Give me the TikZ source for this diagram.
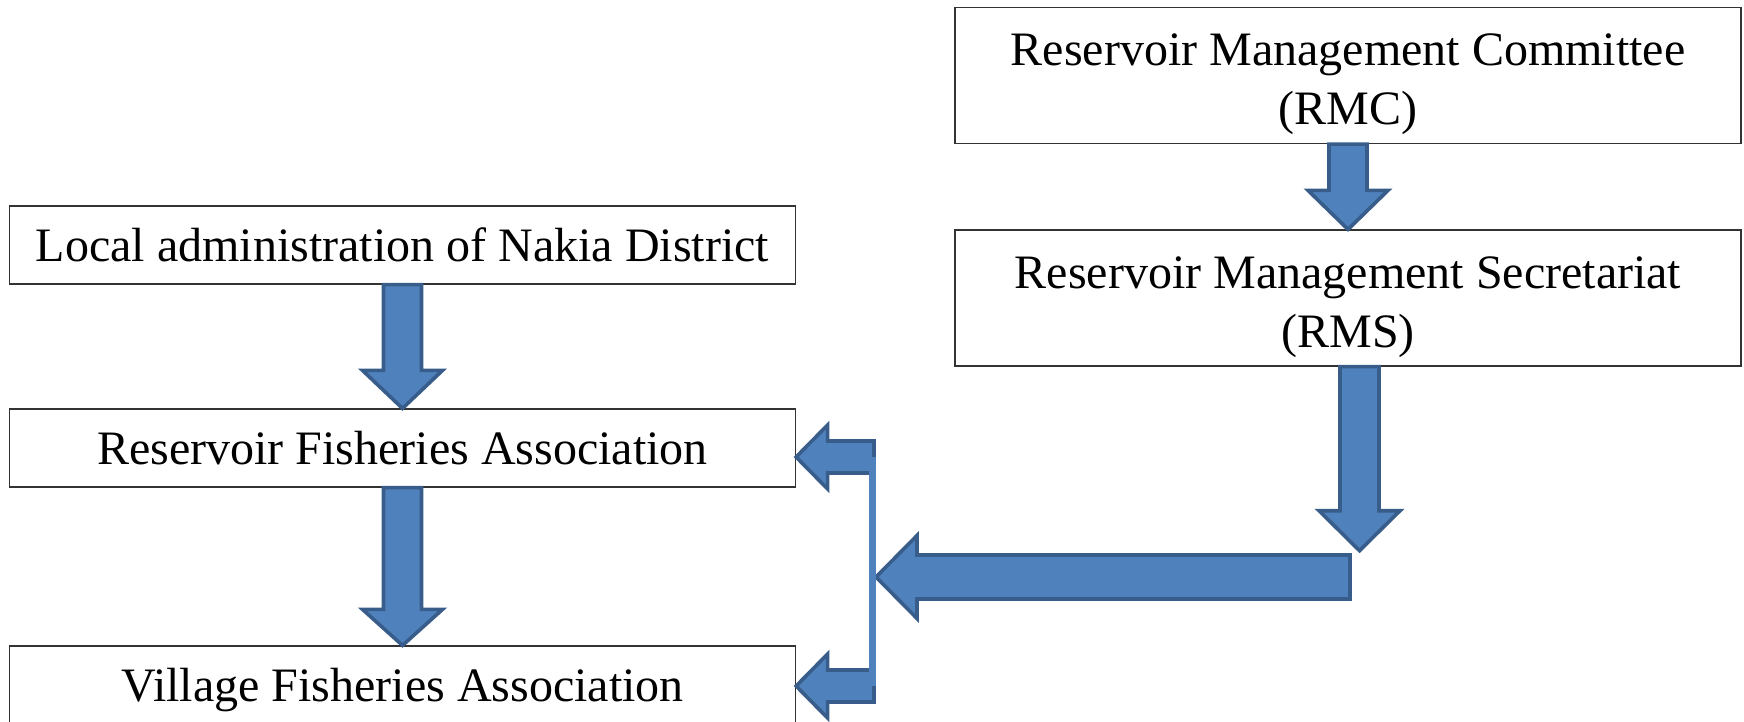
\documentclass[tikz,border=0pt]{standalone}
\usepackage{fontspec}
\setmainfont{Liberation Serif}
\usepackage{tikz}
\usetikzlibrary{calc}
\definecolor{ArrowFill}{HTML}{4F81BD}
\definecolor{ArrowEdge}{HTML}{385D8A}
\tikzset{
  BaseNode/.style = {align=center, inner sep=4pt, text centered, font=\fontsize{24}{29.5}\selectfont},
  BoxNode/.style = {BaseNode, rectangle, draw=black!80, line width=0.6pt, minimum width=393pt},
  OneLineNode/.style = {BoxNode, minimum height=39pt, text height=22pt, text depth=6pt},
  TwoLineNode/.style = {BoxNode, minimum height=68pt},
  BlockArrow/.style = {fill=ArrowFill, draw=ArrowEdge, line width=1.8pt},
  HubBar/.style = {draw=ArrowFill, line width=3.2pt},
}
\newcommand{\topstrut}{\rule{0pt}{25pt}}
% #1 from, #2 to, #3 half shaft, #4 half head, #5 head length
\newcommand{\blockarrow}[5]{%
  \path (#1) coordinate (ba-s) (#2) coordinate (ba-t);
  \path ($(ba-t)!#5!(ba-s)$) coordinate (ba-h);
  \draw[BlockArrow] ($(ba-s)!#3!90:(ba-t)$) -- ($(ba-h)!#3!90:(ba-t)$)
    -- ($(ba-h)!#4!90:(ba-t)$) -- (ba-t) -- ($(ba-h)!#4!-90:(ba-t)$)
    -- ($(ba-h)!#3!-90:(ba-t)$) -- ($(ba-s)!#3!-90:(ba-t)$) -- cycle;
}

\begin{document}
\begin{tikzpicture}[x=0.5pt, y=-0.5pt]
    \useasboundingbox (0,0) rectangle (1744,722);

    \node [TwoLineNode] (rmc) at (1348,75.5) {\topstrut Reservoir Management Committee\\(RMC)};
    \node [TwoLineNode] (rms) at (1348,298) {\topstrut Reservoir Management Secretariat\\(RMS)};
    \node [OneLineNode] (local) at (402.5,245) {Local administration of Nakia District};
    \node [OneLineNode] (rfa) at (402.5,448) {Reservoir Fisheries Association};
    \node [OneLineNode] (vfa) at (402.5,685) {Village Fisheries Association};

    \coordinate (rmsend) at (1359.5,550.7);
    \coordinate (hubstart) at (1350,577);
    \coordinate (hubtip) at (876,577);
    \coordinate (bartop) at (872.5,457);
    \coordinate (barbot) at (872.5,686);

    \blockarrow{rmc.south}{rms.north}{9.5pt}{20pt}{19.5pt}
    \blockarrow{local.south}{rfa.north}{9.5pt}{20pt}{19pt}
    \blockarrow{rfa.south}{vfa.north}{9.5pt}{20pt}{18pt}
    \blockarrow{$(rms.south)+(11.5,0)$}{rmsend}{9.75pt}{20.25pt}{20pt}
    \blockarrow{hubstart}{hubtip}{11pt}{20.75pt}{20.5pt}
    \blockarrow{$(bartop)+(1.5,0)$}{$(rfa.east)+(0,9)$}{8pt}{16pt}{15.75pt}
    \blockarrow{$(barbot)+(1.5,0)$}{$(vfa.east)+(0,1)$}{8pt}{16pt}{15.75pt}
    \draw [HubBar] (bartop) -- (barbot);
\end{tikzpicture}
\end{document}
